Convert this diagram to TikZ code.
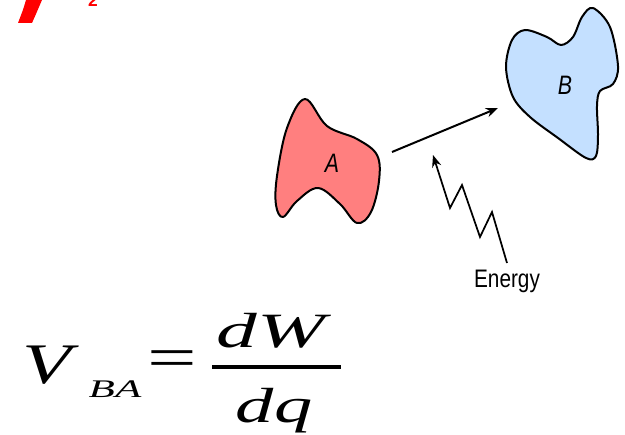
\documentclass[tikz,border=0pt]{standalone}
\usepackage{fontspec}
\usepackage{graphicx}
\usepackage{xcolor}
\usetikzlibrary{arrows.meta}
\newfontfamily\labelfont{Liberation Sans}
\newfontfamily\eqfont{Liberation Serif}
\definecolor{blobRed}{HTML}{FF7F7F}
\definecolor{blobBlue}{HTML}{C4E0FF}
\definecolor{slideRed}{HTML}{FF0000}

\begin{document}
\begin{tikzpicture}[
  x=0.75pt, y=-0.75pt,
  blob/.style={draw=black, line width=1.5pt, line join=round},
  tag/.style={inner sep=0pt, font=\labelfont\itshape\fontsize{20}{20}\selectfont},
  arrow/.style={-{Stealth[length=9pt, width=7pt]}, line width=1.5pt},
  eq/.style={inner sep=0pt, anchor=base, font=\eqfont\itshape\fontsize{37}{37}\selectfont},
]
\useasboundingbox (0,0) rectangle (625,435);

% Clipped pieces of the slide title
\fill[slideRed] (18,23) -- (32,23) .. controls (36,14) .. (42,0) -- (26,0) .. controls (23,10) .. cycle;
\node[inner sep=0pt, anchor=base, text=slideRed, font=\labelfont\bfseries\fontsize{13}{13}\selectfont] (sub) at (93,7) {2};

% Object A and object B
\draw[blob, fill=blobRed] plot[smooth cycle, tension=0.6] coordinates {
  (305,99) (327,126) (357,139) (377,155) (379,181) (371,212) (357,223)
  (340,204) (318,188) (297,201) (283,217) (276,205) (277,176) (287,128)};
\node[tag] (a) at (332,163) {\scalebox{0.8}[1]{A}};

\draw[blob, fill=blobBlue] plot[smooth cycle, tension=0.55] coordinates {
  (593,8) (610,27) (618,66) (613,84) (600,91) (597,106) (598,135) (596,156)
  (586,158) (558,138) (530,117) (513,97) (506,67) (512,40) (525,30) (547,37)
  (561,45) (573,37) (582,17)};
\node[tag] (b) at (565,85) {\scalebox{0.8}[1]{B}};

% Move from A to B
\coordinate (from) at (392,152);
\coordinate (to) at (498,108);
\draw[arrow] (from) -- (to);

% Energy input
\node[inner sep=0pt, font=\labelfont\fontsize{19}{19}\selectfont] (energy) at (507,281) {\scalebox{0.82}[1]{Energy}};
\coordinate (zig) at (507,263);
\draw[arrow, line width=1.3pt, line join=miter] (zig) -- (492,212) -- (480,237) -- (462,185) -- (450,208) -- (433,155);

% Potential difference
\node[eq, font=\eqfont\itshape\fontsize{43}{43}\selectfont] (v) at (47,383) {\scalebox{1.4}[1]{V}};
\node[eq, font=\eqfont\itshape\fontsize{19}{19}\selectfont] (ba) at (115,397) {\scalebox{1.7}[1]{BA}};
\node[eq, font=\eqfont\fontsize{44}{44}\selectfont] (equals) at (172,377) {\scalebox{1.5}[1]{=}};
\node[eq] (dw) at (271,347) {\scalebox{1.65}[1]{dW}};
\node[eq] (dq) at (274,422) {\scalebox{1.55}[1]{dq}};
\draw[line width=3pt] (212,367) -- (341,367);
\end{tikzpicture}
\end{document}
